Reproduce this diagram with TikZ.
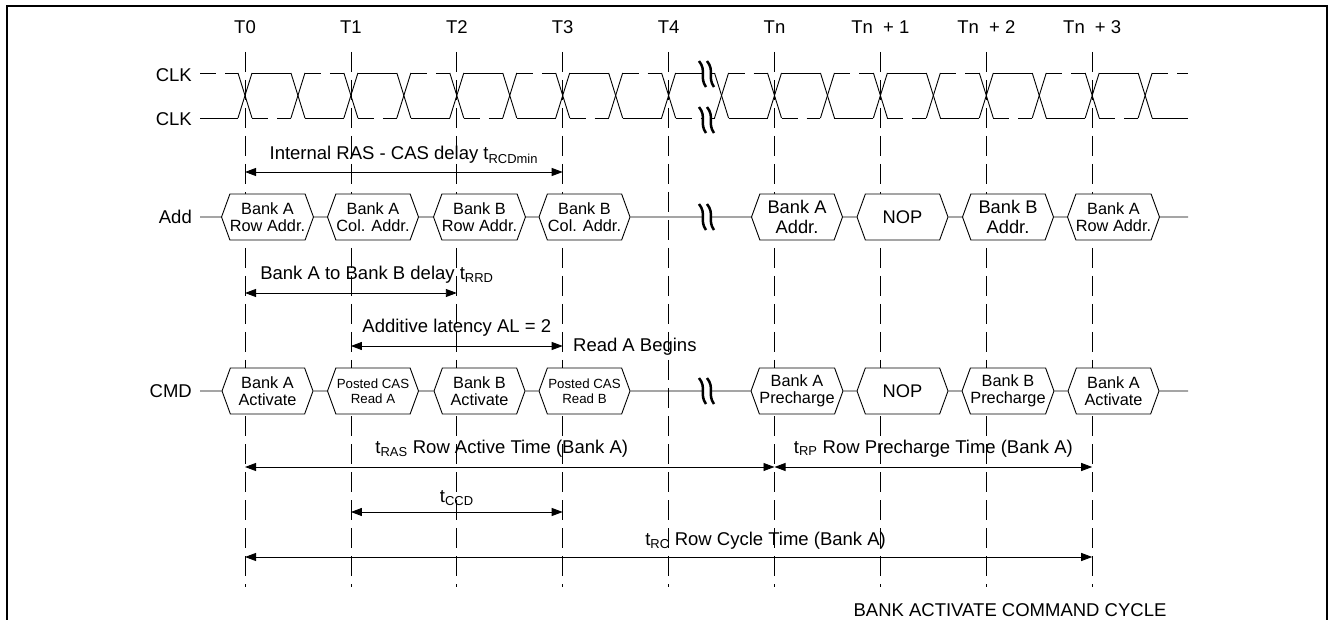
\documentclass[tikz,border=0pt]{standalone}
\usepackage{fontspec}
\setmainfont{Liberation Sans}
\usetikzlibrary{arrows.meta,shapes.symbols}

\tikzset{
	sig/.style={line width=0.9pt},
	clkdash/.style={dash pattern=on 16pt off 9pt},
	tick/.style={line width=0.8pt, dash pattern=on 20pt off 8pt},
	dim/.style={line width=0.9pt, {Triangle[length=11pt,width=8pt]}-{Triangle[length=11pt,width=8pt]}},
	lbl/.style={font=\fontsize{18.5}{21}\selectfont, inner sep=0pt},
	hexbox/.style={signal, signal to=east and west, signal pointer angle=140, draw, fill=white,
		line width=0.9pt, minimum width=91pt, minimum height=46pt, inner sep=0pt, align=center,
		font=\fontsize{16.3}{17.5}\selectfont},
	hexbig/.style={font=\fontsize{18.3}{20.5}\selectfont},
	hexsmall/.style={font=\fontsize{13.3}{15}\selectfont},
	brk/.pic={
		\fill[white] (-3,-13) -- (5,-13) -- (7,13) -- (-1,13) -- cycle;
		\draw[line width=2.5pt] (-6,-13) .. controls (2,-3) and (-6,3) .. (1,13);
		\draw[line width=2.5pt] (2,-13) .. controls (10,-3) and (2,3) .. (9,13);
	}
}

\begin{document}
\begin{tikzpicture}[x=1pt,y=-1pt]
	\useasboundingbox (0,0) rectangle (1331,620);
	% frame, open at the bottom
	\draw[line width=1.3pt] (7,620) -- (7,6) -- (1327,6) -- (1327,620);

	% clock edges
	\foreach \k in {0,...,8} {
		\coordinate (t\k) at ({245+105.9*\k},52);
		\coordinate (b\k) at ({245+105.9*\k},587);
		\draw[tick] (t\k) -- (b\k);
	}
	\node[lbl, anchor=base] (n0) at (t0 |- 0,34) {T0};
	\node[lbl, anchor=base] (n1) at (t1 |- 0,34) {T1};
	\node[lbl, anchor=base] (n2) at (t2 |- 0,34) {T2};
	\node[lbl, anchor=base] (n3) at (t3 |- 0,34) {T3};
	\node[lbl, anchor=base] (n4) at (t4 |- 0,34) {T4};
	\node[lbl, anchor=base] (n5) at (t5 |- 0,34) {Tn};
	\node[lbl, anchor=base] (n6) at (t6 |- 0,34) {Tn\hspace{0.55em}+ 1};
	\node[lbl, anchor=base] (n7) at (t7 |- 0,34) {Tn\hspace{0.55em}+ 2};
	\node[lbl, anchor=base] (n8) at (t8 |- 0,34) {Tn\hspace{0.55em}+ 3};

	% clock pair
	\node[lbl, anchor=east] (clkA) at (192,75) {CLK};
	\node[lbl, anchor=east] (clkB) at (192,119) {CLK};
	\foreach \j in {0,...,17} {
		\pgfmathsetmacro\xc{245+52.95*\j}
		\draw[sig] (\xc-7,73) -- (\xc+7,118);
		\draw[sig] (\xc-7,118) -- (\xc+7,73);
	}
	\foreach \j in {0,2,...,16} {
		\pgfmathsetmacro\xa{245+52.95*\j+7}
		\pgfmathsetmacro\xb{245+52.95*(\j+1)-7}
		\draw[sig] (\xa,73) -- (\xb,73);
		\draw[sig,clkdash] (\xa,118) -- (\xb,118);
	}
	\foreach \j in {1,3,...,15} {
		\pgfmathsetmacro\xa{245+52.95*\j+7}
		\pgfmathsetmacro\xb{245+52.95*(\j+1)-7}
		\draw[sig,clkdash] (\xa,73) -- (\xb,73);
		\draw[sig] (\xa,118) -- (\xb,118);
	}
	\draw[sig,clkdash] (200,73) -- (238,73);
	\draw[sig] (200,118) -- (238,118);
	\draw[sig,clkdash] (1152,73) -- (1188,73);
	\draw[sig] (1152,118) -- (1188,118);

	% address bus
	\node[lbl, anchor=east, inner xsep=8pt] (add) at (200,217) {Add};
	\node[hexbox] (a1) at (267.5,217) {Bank A\\Row Addr.};
	\node[hexbox] (a2) at (373,217) {Bank A\\Col. Addr.};
	\node[hexbox] (a3) at (479.5,217) {Bank B\\Row Addr.};
	\node[hexbox] (a4) at (584.5,217) {Bank B\\Col. Addr.};
	\node[hexbox, hexbig] (a5) at (797,217) {Bank A\\Addr.};
	\node[hexbox, hexbig] (a6) at (902.5,217) {NOP};
	\node[hexbox, hexbig] (a7) at (1008,217) {Bank B\\Addr.};
	\node[hexbox] (a8) at (1113.5,217) {Bank A\\Row Addr.};
	\coordinate (aEnd) at (1188,217);
	\draw[sig] (add) -- (a1) (a1) -- (a2) (a2) -- (a3) (a3) -- (a4) (a4) -- (a5)
		(a5) -- (a6) (a6) -- (a7) (a7) -- (a8) (a8) -- (aEnd);

	% command bus
	\node[lbl, anchor=east, inner xsep=8pt] (cmd) at (200,391) {CMD};
	\node[hexbox] (c1) at (267.5,391) {Bank A\\Activate};
	\node[hexbox, hexsmall] (c2) at (373,391) {Posted CAS\\Read A};
	\node[hexbox] (c3) at (479.5,391) {Bank B\\Activate};
	\node[hexbox, hexsmall] (c4) at (584.5,391) {Posted CAS\\Read B};
	\node[hexbox] (c5) at (797,391) {Bank A\\Precharge};
	\node[hexbox, hexbig] (c6) at (902.5,391) {NOP};
	\node[hexbox] (c7) at (1008,391) {Bank B\\Precharge};
	\node[hexbox] (c8) at (1113.5,391) {Bank A\\Activate};
	\coordinate (cEnd) at (1188,391);
	\draw[sig] (cmd) -- (c1) (c1) -- (c2) (c2) -- (c3) (c3) -- (c4) (c4) -- (c5)
		(c5) -- (c6) (c6) -- (c7) (c7) -- (c8) (c8) -- (cEnd);

	% time breaks
	\pic at (705,74) {brk};
	\pic at (705,120) {brk};
	\pic at (705,217) {brk};
	\pic at (705,391) {brk};

	% timing parameters
	\coordinate (rcdY) at (0,172);
	\coordinate (rrdY) at (0,293);
	\coordinate (alY) at (0,346);
	\coordinate (rasY) at (0,467);
	\coordinate (ccdY) at (0,512);
	\coordinate (rcY) at (0,557);
	\draw[dim] (t0 |- rcdY) -- (t3 |- rcdY) node[lbl, midway, anchor=base, yshift=12pt] (rcd) {Internal RAS - CAS delay t\textsubscript{RCDmin}};
	\draw[dim] (t0 |- rrdY) -- (t2 |- rrdY) node[lbl, midway, anchor=base, xshift=26pt, yshift=13pt] (rrd) {Bank A to Bank B delay t\textsubscript{RRD}};
	\draw[dim] (t1 |- alY) -- (t3 |- alY) node[lbl, midway, anchor=base, yshift=13pt] (al) {Additive latency AL = 2}
		node[lbl, at end, anchor=base west, xshift=10pt, yshift=-6pt] (readA) {Read A Begins};
	\draw[dim] (t0 |- rasY) -- (t5 |- rasY) node[lbl, midway, anchor=base, xshift=-8pt, yshift=14pt] (ras) {t\textsubscript{RAS} Row Active Time (Bank A)};
	\draw[dim] (t5 |- rasY) -- (t8 |- rasY) node[lbl, midway, anchor=base, yshift=14pt] (rp) {t\textsubscript{RP} Row Precharge Time (Bank A)};
	\draw[dim] (t1 |- ccdY) -- (t3 |- ccdY) node[lbl, midway, anchor=base, yshift=10pt] (ccd) {t\textsubscript{CCD}};
	\draw[dim] (t0 |- rcY) -- (t8 |- rcY) node[lbl, midway, anchor=base, xshift=97pt, yshift=12pt] (rc) {t\textsubscript{RC} Row Cycle Time (Bank A)};
	\node[lbl, anchor=base] (title) at (1010,616) {BANK ACTIVATE COMMAND CYCLE};
\end{tikzpicture}
\end{document}
